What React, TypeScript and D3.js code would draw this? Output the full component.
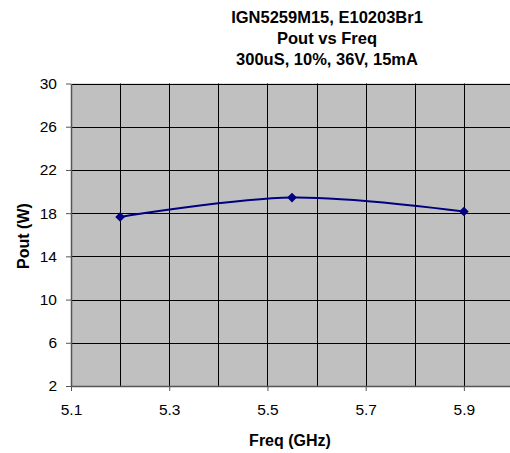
import React, { useEffect, useRef } from 'react';
import * as d3 from 'd3';

const freqs = [5.2, 5.55, 5.9];
const pout = [17.65, 19.44, 18.15];
const xTicks = [5.1, 5.3, 5.5, 5.7, 5.9];
const xGrid = [5.1, 5.2, 5.3, 5.4, 5.5, 5.6, 5.7, 5.8, 5.9, 6.0];
const yTicks = [2, 6, 10, 14, 18, 22, 26, 30];
const titleLines = ['IGN5259M15, E10203Br1', 'Pout vs Freq', '300uS, 10%, 36V, 15mA'];

export default function App() {
  const svgRef = useRef<SVGSVGElement>(null);

  useEffect(() => {
    if (!svgRef.current) return;
    const svg = d3.select(svgRef.current);
    svg.selectAll('*').remove();

    const width = 510;
    const height = 453;
    const margin = { top: 83.5, left: 71, bottom: 386 };
    const font = 'Arial, "Liberation Sans", sans-serif';

    const x = d3.scaleLinear().domain([5.1, 6.0]).range([margin.left, 513]);
    const y = d3.scaleLinear().domain([2, 30]).range([margin.bottom, margin.top]);

    svg.attr('width', width).attr('height', height);

    // plot area
    svg.append('rect')
      .attr('x', x(5.1)).attr('y', y(30))
      .attr('width', x(6.0) - x(5.1)).attr('height', y(2) - y(30))
      .attr('fill', '#c0c0c0');

    // grid
    svg.append('g').selectAll('line').data(yTicks.slice(1)).enter().append('line')
      .attr('x1', x(5.1)).attr('x2', x(6.0))
      .attr('y1', d => Math.round(y(d)) + 0.5).attr('y2', d => Math.round(y(d)) + 0.5)
      .attr('stroke', '#000').attr('stroke-width', 1);
    svg.append('g').selectAll('line').data(xGrid.slice(1)).enter().append('line')
      .attr('x1', d => Math.round(x(d)) + 0.5).attr('x2', d => Math.round(x(d)) + 0.5)
      .attr('y1', y(30)).attr('y2', y(2))
      .attr('stroke', '#000').attr('stroke-width', 1);

    // axes
    const yAxis = svg.append('g')
      .attr('transform', `translate(${margin.left},0)`)
      .call(d3.axisLeft(y).tickValues(yTicks).tickSize(5).tickSizeOuter(0).tickPadding(9));
    const xAxis = svg.append('g')
      .attr('transform', `translate(0,${margin.bottom})`)
      .call(d3.axisBottom(x).tickValues(xTicks).tickFormat(d3.format('.1f')).tickSize(5).tickSizeOuter(0).tickPadding(13));
    [yAxis, xAxis].forEach(a => {
      a.select('.domain').attr('stroke', '#555').attr('stroke-width', 1.5);
      a.selectAll('.tick line').attr('stroke', '#555');
      a.selectAll('.tick text').attr('fill', '#000').style('font-family', font).style('font-size', '15.5px');
    });

    // line
    const pts = freqs.map((f, i) => [f, pout[i]] as [number, number]);
    const line = d3.line<[number, number]>()
      .x(d => x(d[0])).y(d => y(d[1]))
      .curve(d3.curveCardinal.tension(0));
    svg.append('path').datum(pts)
      .attr('d', line)
      .attr('fill', 'none').attr('stroke', '#000080').attr('stroke-width', 2);

    const diamond = d3.symbol().type(d3.symbolDiamond2).size(60);
    svg.append('g').selectAll('path').data(pts).enter().append('path')
      .attr('d', diamond)
      .attr('transform', d => `translate(${x(d[0])},${y(d[1])})`)
      .attr('fill', '#000080');

    // titles
    svg.append('g').selectAll('text').data(titleLines).enter().append('text')
      .attr('x', 327).attr('y', (_, i) => 23 + i * 21)
      .attr('text-anchor', 'middle')
      .style('font-family', font).style('font-size', '16.5px').style('font-weight', 'bold')
      .text(d => d);

    svg.append('text')
      .attr('x', 290).attr('y', 446)
      .attr('text-anchor', 'middle')
      .style('font-family', font).style('font-size', '16px').style('font-weight', 'bold')
      .text('Freq (GHz)');

    svg.append('text')
      .attr('transform', `translate(29,236) rotate(-90)`)
      .attr('text-anchor', 'middle')
      .style('font-family', font).style('font-size', '16px').style('font-weight', 'bold')
      .text('Pout (W)');
  }, []);

  return (
    <div style={{ position: 'absolute', left: 0, top: 0 }}>
      <svg ref={svgRef} style={{ display: 'block' }}></svg>
    </div>
  );
}
